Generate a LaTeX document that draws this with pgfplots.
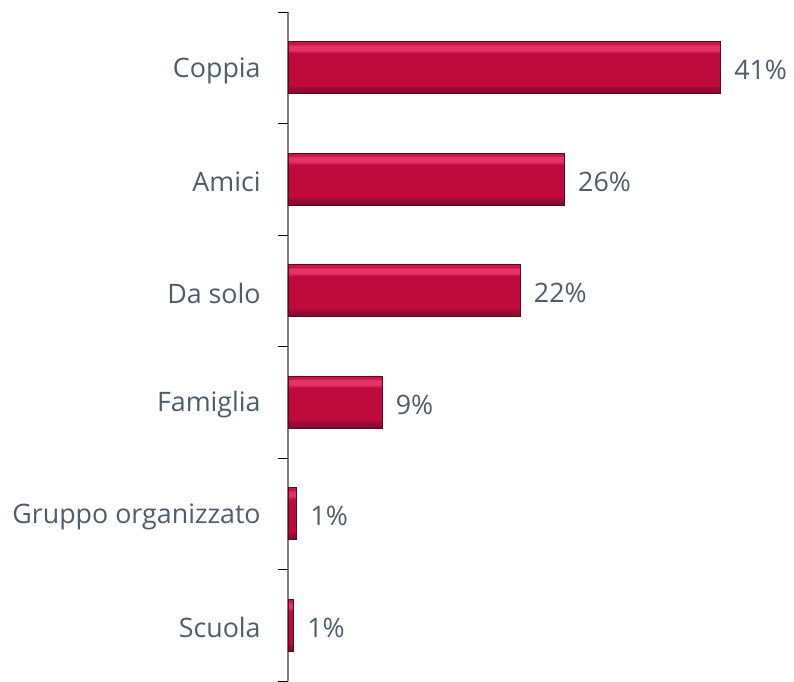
\documentclass[border=0pt]{standalone}
\usepackage{pgfplots}
\pgfplotsset{compat=1.18}
\usepackage{fontspec}
\setmainfont{Open Sans}
\definecolor{txt}{HTML}{4E5D6B}
\definecolor{base}{HTML}{BE0A3C}
\definecolor{bevdark}{HTML}{5E0820}
\definecolor{bevmid}{HTML}{8A0A30}
\definecolor{bevlight}{HTML}{E4336A}
\definecolor{axgray}{HTML}{808080}
\pgfdeclareverticalshading{bevel}{100bp}{%
 color(0bp)=(bevdark); color(25bp)=(bevdark); color(26.5bp)=(bevmid); color(31bp)=(bevmid!60!base);
 color(33bp)=(base); color(64bp)=(base); color(67bp)=(bevlight); color(71bp)=(bevlight);
 color(73bp)=(base!80!bevlight); color(75bp)=(base!70!bevlight); color(100bp)=(base!70!bevlight)}
\pgfplotsset{bevbar/.style={draw=bevdark, line width=0.4pt, shading=bevel, bar shift=0pt}}
\begin{document}
\begin{tikzpicture}
\begin{axis}[
  name=ax,
  scale only axis,
  width=379.5pt, height=501.75pt,
  xbar, bar width=39pt,
  xmin=0, xmax=48,
  ymin=-0.5, ymax=5.5,
  y dir=reverse,
  hide x axis,
  axis y line*=left,
  y axis line style={draw=axgray, line width=0.9pt},
  ytick={0,1,2,3,4,5},
  yticklabels={Coppia,Amici,Da solo,Famiglia,Gruppo organizzato,Scuola},
  major tick length=0pt,
  yticklabel style={font=\fontsize{20.1}{24}\selectfont, text=txt, xshift=-17pt, yshift=-2pt},
  extra y ticks={-0.5,0.5,1.5,2.5,3.5,4.5,5.5},
  extra y tick labels={},
  extra y tick style={major tick length=7.5pt, tick align=outside, tick style={draw=black, line width=0.7pt}},
  point meta=explicit symbolic,
  nodes near coords,
  every node near coord/.append style={font=\fontsize{20.1}{24}\selectfont, text=txt, anchor=west, xshift=7pt, yshift=-2pt},
  clip=false,
]
\addplot[bevbar] coordinates {(41,0) [41\%]};
\addplot[bevbar] coordinates {(26.2,1) [26\%]};
\addplot[bevbar] coordinates {(22,2) [22\%]};
\addplot[bevbar] coordinates {(8.9,3) [9\%]};
\addplot[bevbar] coordinates {(0.8,4) [1\%]};
\addplot[bevbar] coordinates {(0.5,5) [1\%]};
\end{axis}
\pgfresetboundingbox
\path ([xshift=-216pt]ax.south west) rectangle ([yshift=9pt]ax.north east);
\end{tikzpicture}
\end{document}
